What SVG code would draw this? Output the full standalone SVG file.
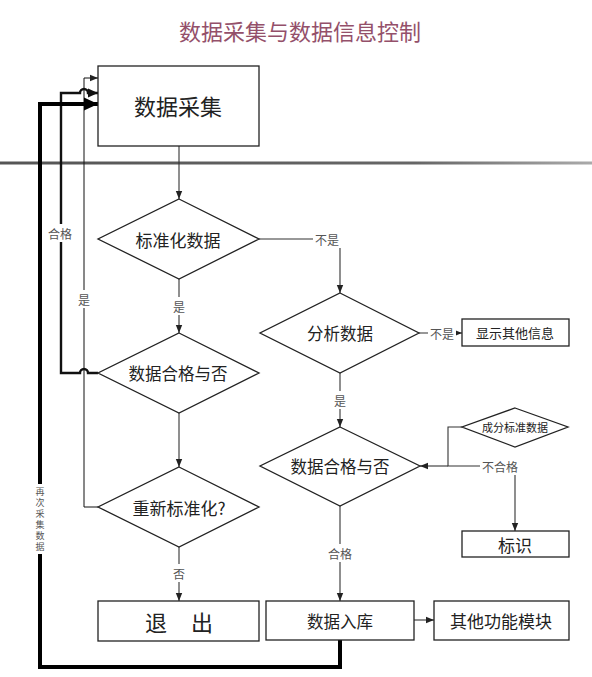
<svg xmlns="http://www.w3.org/2000/svg" width="592" height="677" viewBox="0 0 592 677">
<style>
.node{fill:#fff;stroke:#222;stroke-width:1.3}
.t{font-family:"Noto Sans CJK SC","Noto Sans",sans-serif;fill:#222;text-anchor:middle;dominant-baseline:central}
.lbl{font-family:"Noto Sans CJK SC","Noto Sans",sans-serif;fill:#555;font-size:12px;text-anchor:middle;dominant-baseline:central}
.ln{fill:none;stroke:#333;stroke-width:1.1}
.bg{fill:#fff}
</style>
<defs>
<linearGradient id="div" x1="0" y1="0" x2="1" y2="0">
<stop offset="0" stop-color="#555"/>
<stop offset="0.7" stop-color="#666"/>
<stop offset="1" stop-color="#aaa"/>
</linearGradient>
<marker id="a" markerUnits="userSpaceOnUse" markerWidth="8" markerHeight="8" viewBox="0 0 8 8" refX="8" refY="4" orient="auto">
<path d="M0,0.8 L8,4 L0,7.2 Z" fill="#222"/>
</marker>
<marker id="aM" markerUnits="userSpaceOnUse" markerWidth="10" markerHeight="10" viewBox="0 0 10 10" refX="10" refY="5" orient="auto">
<path d="M0,0.5 L10,5 L0,9.5 Z" fill="#111"/>
</marker>
<marker id="aL" markerUnits="userSpaceOnUse" markerWidth="14" markerHeight="14" viewBox="0 0 14 14" refX="14" refY="7" orient="auto">
<path d="M0,0.5 L14,7 L0,13.5 Z" fill="#000"/>
</marker>
</defs>
<rect width="592" height="677" fill="#fff"/>
<text x="300" y="30" font-family="Noto Sans CJK SC,sans-serif" font-size="22" fill="#94506a" text-anchor="middle" dominant-baseline="central">数据采集与数据信息控制</text>
<rect x="0" y="161.5" width="592" height="3" fill="url(#div)"/>

<g id="connectors">
<path class="ln" d="M179,146 V199" marker-end="url(#a)"/>
<path class="ln" d="M179,279 V333" marker-end="url(#a)"/>
<path class="ln" d="M179,413 V467" marker-end="url(#a)"/>
<path class="ln" d="M179,547 V601" marker-end="url(#a)"/>
<path class="ln" d="M259,239 H340 V293" marker-end="url(#a)"/>
<path class="ln" d="M419,333 H462" marker-end="url(#a)"/>
<path class="ln" d="M340,373 V427" marker-end="url(#a)"/>
<path class="ln" d="M340,506 V601" marker-end="url(#a)"/>
<path class="ln" d="M414,620 H434" marker-end="url(#a)"/>
<path class="ln" d="M448,466 H420" marker-end="url(#a)"/>
<path class="ln" d="M462,427 H448 V466 H515 V531" marker-end="url(#a)"/>
<path fill="none" stroke="#111" stroke-width="1" d="M98,507 H84 V78 H98" marker-end="url(#a)"/>
<path fill="none" stroke="#111" stroke-width="2.4" d="M98,373 H88 A4,4 0 0 0 80,373 H61 V93 H80 A4,4 0 0 1 88,93 H98" marker-end="url(#aM)"/>
<path fill="none" stroke="#000" stroke-width="4" d="M340,640 V667 H40 V104 H98" marker-end="url(#aL)"/>
<circle cx="61" cy="104" r="2" fill="#000"/>
<circle cx="84" cy="104" r="1.6" fill="#000"/>
<rect class="bg" x="46" y="224" width="29" height="18"/>
<text class="lbl" x="60" y="233">合格</text>
<rect class="bg" x="76" y="290" width="16" height="18"/>
<text class="lbl" x="84" y="299">是</text>
<rect class="bg" x="171" y="297" width="16" height="18"/>
<text class="lbl" x="179" y="306">是</text>
<rect class="bg" x="171" y="564" width="16" height="18"/>
<text class="lbl" x="179" y="573">否</text>
<rect class="bg" x="313" y="230" width="28" height="18"/>
<text class="lbl" x="327" y="239">不是</text>
<rect class="bg" x="428" y="324" width="28" height="18"/>
<text class="lbl" x="442" y="333">不是</text>
<rect class="bg" x="332" y="391" width="16" height="18"/>
<text class="lbl" x="340" y="400">是</text>
<rect class="bg" x="326" y="544" width="28" height="18"/>
<text class="lbl" x="340" y="553">合格</text>
<rect class="bg" x="480" y="457" width="40" height="18"/>
<text class="lbl" x="500" y="466">不合格</text>
<rect class="bg" x="35" y="484" width="11" height="70"/>
<text x="40" y="487" font-family="Noto Sans CJK SC,sans-serif" font-size="9" fill="#555" style="writing-mode:vertical-rl;letter-spacing:2px">再次采集数据</text>
</g>

<g id="n-collect">
<rect class="node" x="98" y="66" width="161" height="80"/>
<text class="t" x="178" y="105" font-size="22">数据采集</text>
</g>
<g id="n-standardize">
<polygon class="node" points="179,199 259,239 179,279 98,239"/>
<text class="t" x="178" y="239" font-size="17">标准化数据</text>
</g>
<g id="n-qualified1">
<polygon class="node" points="179,333 259,373 179,413 98,373"/>
<text class="t" x="178" y="373" font-size="16.5">数据合格与否</text>
</g>
<g id="n-restandardize">
<polygon class="node" points="179,467 259,507 179,547 98,507"/>
<text class="t" x="179" y="507" font-size="17">重新标准化?</text>
</g>
<g id="n-exit">
<rect class="node" x="98" y="601" width="161" height="40"/>
<text class="t" x="156" y="621" font-size="22">退</text>
<text class="t" x="202" y="621" font-size="22">出</text>
</g>
<g id="n-analyze">
<polygon class="node" points="340,293 419,333 340,373 260,333"/>
<text class="t" x="340" y="333" font-size="16.5">分析数据</text>
</g>
<g id="n-other-info">
<rect class="node" x="462" y="319" width="107" height="27"/>
<text class="t" x="515" y="332.5" font-size="13">显示其他信息</text>
</g>
<g id="n-component">
<polygon class="node" points="515,408 568,427 515,447 462,427"/>
<text class="t" x="515" y="427" font-size="11">成分标准数据</text>
</g>
<g id="n-qualified2">
<polygon class="node" points="340,427 420,466 340,506 260,466"/>
<text class="t" x="340" y="466" font-size="16.5">数据合格与否</text>
</g>
<g id="n-mark">
<rect class="node" x="462" y="531" width="107" height="26"/>
<text class="t" x="515" y="544" font-size="17">标识</text>
</g>
<g id="n-store">
<rect class="node" x="266" y="601" width="148" height="39"/>
<text class="t" x="340" y="620.5" font-size="16.5">数据入库</text>
</g>
<g id="n-modules">
<rect class="node" x="434" y="601" width="135" height="39"/>
<text class="t" x="501" y="620.5" font-size="17">其他功能模块</text>
</g>
</svg>
